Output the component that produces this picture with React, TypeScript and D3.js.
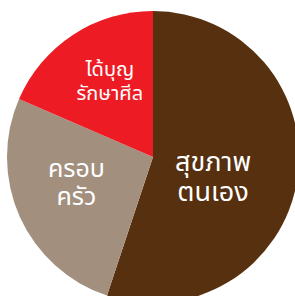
import React, { useEffect, useRef } from "react";
import * as d3 from "d3";

// slices, clockwise from 12 o'clock
const categories = ["health", "family", "merit"];
const shares = [55.1, 26.4, 18.5];
const colors = ["#56300f", "#a38f7e", "#ed1c24"];
const labels = [
  ["สุขภาพ", "ตนเอง"],
  ["ครอบ", "ครัว"],
  ["ได้บุญ", "รักษาศีล"],
];

const W = 295;
const H = 296;

export default function App() {
  const ref = useRef<SVGSVGElement>(null);

  useEffect(() => {
    const svg = d3.select(ref.current);
    svg.selectAll("*").remove();

    const cx = 153, cy = 157, r = 146;
    const g = svg.append("g").attr("transform", `translate(${cx},${cy})`);

    const pie = d3.pie<number>().sort(null).value((d) => d);
    const arcs = pie(shares);
    const arc = d3.arc<d3.PieArcDatum<number>>().innerRadius(0).outerRadius(r);

    g.selectAll("path.slice")
      .data(arcs)
      .enter()
      .append("path")
      .attr("class", "slice")
      .attr("d", arc)
      .attr("fill", (d, i) => colors[i]);

    // label spots, nudged off the centroid a bit like the original
    const labelArc = d3.arc<d3.PieArcDatum<number>>().innerRadius(0).outerRadius(r);
    const nudge = [[-12, 9], [-10, -4], [-3, -16]];
    const sizes = [27, 25, 20];
    const lineGap = [30, 28, 24];

    arcs.forEach((d, i) => {
      const [x, y] = labelArc.centroid(d);
      labels[i].forEach((line, k) => {
        g.append("text")
          .attr("text-anchor", "middle")
          .attr("fill", "#fff")
          .attr("font-family", "'Noto Sans Thai', 'Noto Sans', 'DejaVu Sans', sans-serif")
          .attr("font-size", sizes[i])
          .attr("data-cat", categories[i])
          .attr("x", x + nudge[i][0])
          .attr("y", y + nudge[i][1] + (k - 0.5) * lineGap[i] + 8)
          .text(line);
      });
    });
  }, []);

  return (
    <svg
      ref={ref}
      width={W}
      height={H}
      style={{ position: "absolute", left: 0, top: 0, background: "#fff" }}
    />
  );
}
